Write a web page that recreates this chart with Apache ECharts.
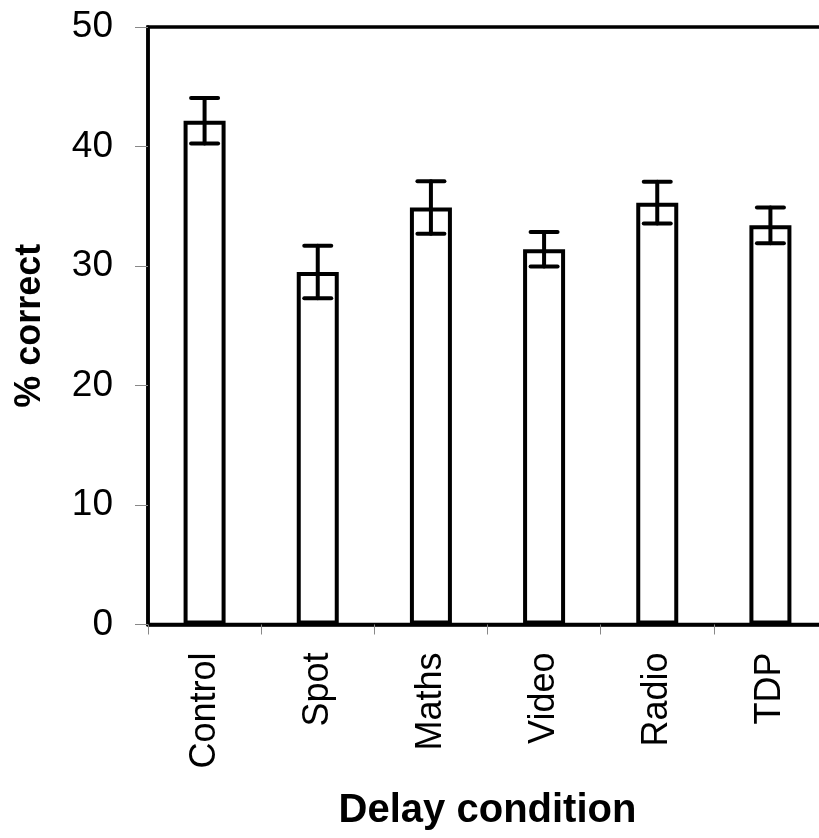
<!DOCTYPE html>
<html>
<head>
<meta charset="utf-8">
<script src="https://cdn.jsdelivr.net/npm/echarts@6/dist/echarts.min.js"></script>
<style>
  html, body { margin: 0; padding: 0; overflow: hidden; background: #fff; }
  #main { width: 830px; height: 838px; }
</style>
</head>
<body>
<div id="main"></div>
<script>
// data
const categories = ['Control', 'Spot', 'Maths', 'Video', 'Radio', 'TDP'];
const means = [42.15, 29.5, 34.9, 31.4, 35.3, 33.4];
const errors = [1.9, 2.2, 2.2, 1.45, 1.75, 1.5];
const yTicks = [0, 10, 20, 30, 40, 50];

const font = 'Liberation Sans, Arial, sans-serif';

const errData = categories.map((c, i) => [i, means[i] - errors[i], means[i] + errors[i]]);

const chart = echarts.init(document.getElementById('main'));

const option = {
  animation: false,
  grid: {
    left: 148,
    top: 27,
    right: 3,
    bottom: 213.5,
    show: true,
    borderColor: '#000',
    borderWidth: 3.5
  },
  xAxis: {
    type: 'category',
    data: categories,
    boundaryGap: true,
    name: 'Delay condition',
    nameLocation: 'middle',
    nameGap: 166,
    nameTextStyle: { fontFamily: font, fontSize: 40, fontWeight: 'bold', color: '#000' },
    axisLine: { lineStyle: { color: '#000', width: 3.5 } },
    axisTick: { show: true, length: 10, lineStyle: { color: '#888', width: 1 } },
    axisLabel: { rotate: 90, fontFamily: font, fontSize: 36, color: '#000', margin: 28 }
  },
  yAxis: {
    type: 'value',
    min: yTicks[0],
    max: yTicks[yTicks.length - 1],
    interval: 10,
    name: '% correct',
    nameLocation: 'middle',
    nameGap: 100,
    nameTextStyle: { fontFamily: font, fontSize: 36, fontWeight: 'bold', color: '#000' },
    splitLine: { show: false },
    axisLine: { show: true, lineStyle: { color: '#000', width: 3.5 } },
    axisTick: { show: true, length: 13, lineStyle: { color: '#888', width: 1 } },
    axisLabel: { fontFamily: font, fontSize: 37, color: '#000', margin: 35 }
  },
  series: [
    {
      type: 'bar',
      data: means,
      barWidth: 42,
      itemStyle: { color: '#fff', borderColor: '#000', borderWidth: 4 }
    },
    {
      type: 'custom',
      data: errData,
      z: 5,
      renderItem: function (params, api) {
        const lo = api.coord([api.value(0), api.value(1)]);
        const hi = api.coord([api.value(0), api.value(2)]);
        const hw = 13.5;
        const style = { stroke: '#000', lineWidth: 4, lineCap: 'round' };
        return {
          type: 'group',
          children: [
            { type: 'line', shape: { x1: hi[0], y1: hi[1], x2: lo[0], y2: lo[1] }, style: style },
            { type: 'line', shape: { x1: hi[0] - hw, y1: hi[1], x2: hi[0] + hw, y2: hi[1] }, style: style },
            { type: 'line', shape: { x1: lo[0] - hw, y1: lo[1], x2: lo[0] + hw, y2: lo[1] }, style: style }
          ]
        };
      }
    }
  ]
};

chart.setOption(option);
</script>
</body>
</html>
